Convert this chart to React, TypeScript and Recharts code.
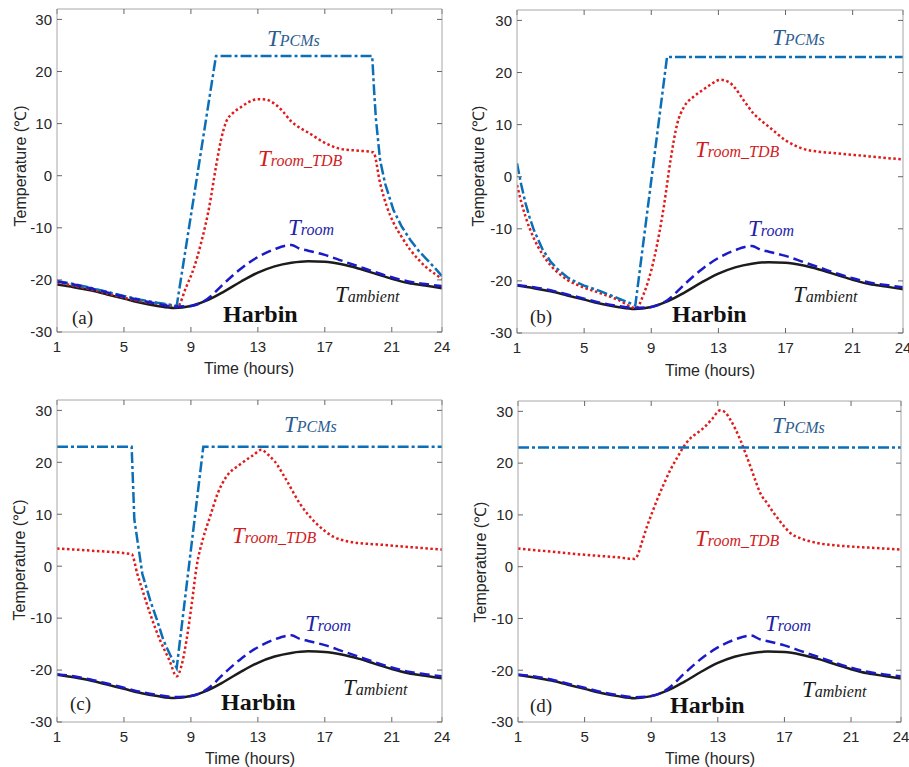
import { LineChart, Line, XAxis, YAxis } from 'recharts'

// axis ticks
const X_TICKS = [1, 5, 9, 13, 17, 21, 24]
const Y_TICKS = [-30, -20, -10, 0, 10, 20, 30]

// ambient temperature, hourly (same for all four panels)
const HOURS = [1, 2, 3, 4, 5, 6, 7, 8, 9, 10, 11, 12, 13, 14, 15, 16, 17, 18, 19, 20, 21, 22, 23, 24]
const T_AMBIENT = [-20.9, -21.4, -22.0, -22.8, -23.6, -24.4, -25.0, -25.4, -25.0, -23.9, -22.2, -20.3, -18.6, -17.4, -16.7, -16.4, -16.5, -17.0, -17.8, -18.8, -19.8, -20.6, -21.1, -21.6]

// room temperature
const ROOM_HOURS = [1, 2, 3, 4, 5, 6, 7, 8, 9, 10, 11, 12, 13, 14, 15, 15.5, 16, 17, 18, 19, 20, 21, 22, 23, 24]
const T_ROOM_A = [-20.3, -20.9, -21.6, -22.4, -23.2, -23.9, -24.6, -25.1, -25.0, -23.6, -20.6, -17.8, -15.6, -14.1, -13.3, -14.0, -14.4, -15.2, -16.3, -17.4, -18.5, -19.5, -20.3, -20.8, -21.2]
const T_ROOM = [-20.8, -21.2, -21.8, -22.6, -23.4, -24.2, -24.8, -25.2, -25.0, -23.6, -20.6, -17.8, -15.6, -14.1, -13.3, -14.0, -14.4, -15.2, -16.3, -17.4, -18.5, -19.5, -20.3, -20.8, -21.2]

// (a)
const PCM_A_HOURS = [1, 2, 3, 4, 5, 6, 7, 8, 8.15, 10.5, 19.83, 19.95, 20.05, 20.3, 20.6, 21.1, 21.6, 22.1, 22.6, 23.1, 23.6, 24]
const PCM_A = [-20.2, -20.8, -21.5, -22.3, -23.1, -23.8, -24.4, -24.9, -25.0, 23, 23, 16, 11, 3, -1.5, -6.6, -9.8, -12.3, -14.4, -16.1, -17.8, -19.3]
const TDB_A_HOURS = [1, 2, 3, 4, 5, 6, 7, 8, 8.2, 8.7, 9.2, 9.6, 10.1, 10.5, 10.8, 11.1, 11.5, 12, 12.5, 13, 13.5, 14, 14.5, 15, 15.5, 16, 17, 18, 19, 19.9, 20.3, 20.7, 21.1, 21.6, 22.1, 22.6, 23.1, 23.6, 24]
const TDB_A = [-20.5, -21.1, -21.8, -22.6, -23.4, -24.1, -24.6, -25.0, -25.1, -21.5, -17.5, -13.0, -5.9, 1.8, 6.9, 10.3, 12.0, 13.2, 14.2, 14.7, 14.6, 13.8, 12.3, 10.4, 9.2, 8.3, 6.3, 5.1, 4.8, 4.5, -1.4, -5.9, -9.0, -11.8, -14.2, -16.1, -17.7, -18.9, -19.8]

// (b)
const PCM_B_HOURS = [1, 1.25, 1.5, 1.75, 2, 2.5, 3, 3.5, 4, 4.5, 5, 6, 7, 8.05, 9.94, 24]
const PCM_B = [2.6, -1.5, -5.0, -7.8, -10.2, -13.8, -16.3, -18.0, -19.3, -20.2, -20.9, -22.0, -23.3, -24.7, 23, 23]
const TDB_B_HOURS = [1, 1.25, 1.5, 2, 2.5, 3, 3.5, 4, 5, 6, 7, 8.1, 8.55, 9.15, 9.75, 10.15, 10.55, 10.95, 11.5, 12, 12.5, 13.1, 13.6, 14, 14.5, 15.1, 15.5, 16, 17, 18, 19, 20, 21, 22, 23, 24]
const TDB_B = [-1.6, -4.8, -7.6, -11.8, -14.8, -17.0, -18.6, -19.8, -21.3, -22.4, -23.6, -25.2, -22.5, -16.0, -5.7, 3.2, 10.2, 13.4, 15.3, 16.5, 17.6, 18.6, 18.2, 17.0, 14.7, 12.1, 10.9, 9.6, 7.0, 5.4, 4.8, 4.5, 4.2, 3.9, 3.6, 3.3]

// (c)
const PCM_C_HOURS = [1, 5.46, 5.62, 6.1, 6.56, 7.0, 7.35, 7.75, 8.15, 9.74, 24]
const PCM_C = [23, 23, 9, -1.5, -6.5, -10.6, -14.2, -17.0, -19.6, 23, 23]
const TDB_C_HOURS = [1, 3, 5.46, 5.8, 6.16, 6.6, 7.15, 7.7, 8.15, 8.45, 8.74, 9.04, 9.34, 9.74, 10.14, 10.6, 11.13, 11.9, 12.73, 13.2, 13.6, 14, 14.7, 15.5, 16.5, 17.5, 18.5, 20.5, 22, 24]
const TDB_C = [3.4, 3.0, 2.3, -1.5, -5.2, -9.5, -14.2, -18.0, -21.2, -19.0, -14.2, -7.5, -0.1, 5.5, 9.5, 14.0, 17.3, 19.5, 21.4, 22.4, 21.5, 20.2, 16.6, 12.1, 8.2, 5.7, 4.7, 4.1, 3.7, 3.2]

// (d)
const PCM_D_HOURS = [1, 24]
const PCM_D = [23, 23]
const TDB_D_HOURS = [1, 3, 5, 7, 8.0, 8.15, 8.45, 8.75, 9.05, 9.35, 9.75, 10.15, 10.55, 10.95, 11.35, 11.75, 12.15, 12.65, 13.15, 13.45, 13.75, 14.05, 14.35, 14.65, 14.95, 15.25, 15.55, 15.95, 16.35, 16.85, 17.35, 17.95, 18.95, 20.95, 22.5, 24]
const TDB_D = [3.5, 2.9, 2.3, 1.8, 1.5, 2.0, 4.8, 7.8, 10.4, 12.9, 15.9, 18.7, 21.0, 23.2, 24.8, 25.8, 26.8, 28.5, 30.2, 29.8, 28.4, 26.6, 24.5, 22.0, 19.4, 16.7, 14.2, 12.3, 10.4, 8.3, 6.5, 5.5, 4.6, 3.9, 3.6, 3.3]

type Pt = { h: number; v: number }
const zip = (hs: number[], vs: number[]): Pt[] => hs.map((h, i) => ({ h, v: vs[i] }))

const SANS = "'Liberation Sans', Arial, sans-serif"
const SERIF = "'Liberation Serif', 'Times New Roman', serif"

const AXIS_GREY = '#a6a6a6'
const TICK_GREY = '#666'

interface PanelProps {
  left: number
  top: number
  plotW: number
  plotH: number
  pcm: Pt[]
  tdb: Pt[]
  room: Pt[]
}

const ambient = zip(HOURS, T_AMBIENT)

function Panel({ left, top, plotW, plotH, pcm, tdb, room }: PanelProps) {
  const tickStyle = { fill: '#262626', fontSize: 15, fontFamily: SANS }
  return (
    <div style={{ position: 'absolute', left: left - 57, top: top - 10 }}>
      <LineChart width={57 + plotW + 10} height={10 + plotH + 40} margin={{ top: 0, right: 0, bottom: 0, left: 0 }}>
        <XAxis
          xAxisId="b"
          type="number"
          dataKey="h"
          domain={[1, 24]}
          ticks={X_TICKS}
          height={40}
          tickSize={-5}
          tickMargin={14}
          tick={tickStyle}
          axisLine={{ stroke: AXIS_GREY }}
          tickLine={{ stroke: TICK_GREY }}
          allowDataOverflow
        />
        <XAxis
          xAxisId="t"
          orientation="top"
          type="number"
          dataKey="h"
          domain={[1, 24]}
          ticks={X_TICKS}
          height={10}
          tickSize={-5}
          tickFormatter={() => ''}
          axisLine={{ stroke: AXIS_GREY }}
          tickLine={{ stroke: TICK_GREY }}
          allowDataOverflow
        />
        <YAxis
          yAxisId="l"
          type="number"
          domain={[-30, 32]}
          ticks={Y_TICKS}
          width={57}
          tickSize={-5}
          tickMargin={10}
          tick={tickStyle}
          axisLine={{ stroke: AXIS_GREY }}
          tickLine={{ stroke: TICK_GREY }}
          allowDataOverflow
        />
        <YAxis
          yAxisId="r"
          orientation="right"
          type="number"
          domain={[-30, 32]}
          ticks={Y_TICKS}
          width={10}
          tickSize={-5}
          tickFormatter={() => ''}
          axisLine={{ stroke: AXIS_GREY }}
          tickLine={{ stroke: TICK_GREY }}
          allowDataOverflow
        />
        <Line xAxisId="b" yAxisId="l" data={ambient} dataKey="v" type="monotone" stroke="#1c1c1c" strokeWidth={2.5} dot={false} isAnimationActive={false} />
        <Line xAxisId="b" yAxisId="l" data={tdb} dataKey="v" type="monotone" stroke="#e01b1b" strokeWidth={2.5} strokeDasharray="2.5 2.5" dot={false} isAnimationActive={false} />
        <Line xAxisId="b" yAxisId="l" data={pcm} dataKey="v" type="linear" stroke="#0b6fb8" strokeWidth={2.5} strokeDasharray="11 3 3 3" dot={false} isAnimationActive={false} />
        <Line xAxisId="b" yAxisId="l" data={room} dataKey="v" type="monotone" stroke="#1a1ac8" strokeWidth={2.5} strokeDasharray="10 5" dot={false} isAnimationActive={false} />
      </LineChart>
    </div>
  )
}

function SubLabel({ x, y, sub, color }: { x: number; y: number; sub: string; color: string }) {
  return (
    <text x={x} y={y} fill={color} fontFamily={SERIF} fontStyle="italic" fontSize={23}>
      T<tspan fontSize={16}>{sub}</tspan>
    </text>
  )
}

interface Notes {
  tag: string
  pcm: [number, number]
  tdb: [number, number]
  room: [number, number]
  amb: [number, number]
  harbin: [number, number]
  tagPos: [number, number]
  yTitle: [number, number]
  xTitle: [number, number]
}

const NOTES: Notes[] = [
  { tag: '(a)', pcm: [267, 46], tdb: [258, 166], room: [288, 235], amb: [335, 302], harbin: [223, 322], tagPos: [72, 324], yTitle: [20, 166], xTitle: [249, 368] },
  { tag: '(b)', pcm: [772, 45], tdb: [695, 157], room: [748, 236], amb: [793, 302], harbin: [672, 322], tagPos: [530, 323], yTitle: [478, 166], xTitle: [710, 370] },
  { tag: '(c)', pcm: [284, 432], tdb: [232, 543], room: [305, 631], amb: [343, 695], harbin: [221, 710], tagPos: [70, 710], yTitle: [19, 560], xTitle: [250, 758] },
  { tag: '(d)', pcm: [772, 433], tdb: [695, 546], room: [765, 631], amb: [802, 697], harbin: [670, 713], tagPos: [530, 712], yTitle: [480, 562], xTitle: [710, 758] },
]

export default function App() {
  return (
    <div style={{ position: 'absolute', left: 0, top: 0, width: 909, height: 767, background: '#fff', overflow: 'hidden' }}>
      <Panel left={57} top={9} plotW={385} plotH={323} pcm={zip(PCM_A_HOURS, PCM_A)} tdb={zip(TDB_A_HOURS, TDB_A)} room={zip(ROOM_HOURS, T_ROOM_A)} />
      <Panel left={517} top={10} plotW={386} plotH={323} pcm={zip(PCM_B_HOURS, PCM_B)} tdb={zip(TDB_B_HOURS, TDB_B)} room={zip(ROOM_HOURS, T_ROOM)} />
      <Panel left={57} top={400} plotW={385} plotH={322} pcm={zip(PCM_C_HOURS, PCM_C)} tdb={zip(TDB_C_HOURS, TDB_C)} room={zip(ROOM_HOURS, T_ROOM)} />
      <Panel left={518} top={401} plotW={383} plotH={321} pcm={zip(PCM_D_HOURS, PCM_D)} tdb={zip(TDB_D_HOURS, TDB_D)} room={zip(ROOM_HOURS, T_ROOM)} />
      <svg width={909} height={767} style={{ position: 'absolute', left: 0, top: 0, pointerEvents: 'none' }}>
        {NOTES.map((n) => (
          <g key={n.tag}>
            <SubLabel x={n.pcm[0]} y={n.pcm[1]} sub="PCMs" color="#2c5d8f" />
            <SubLabel x={n.tdb[0]} y={n.tdb[1]} sub="room_TDB" color="#d01c1c" />
            <SubLabel x={n.room[0]} y={n.room[1]} sub="room" color="#2323a8" />
            <SubLabel x={n.amb[0]} y={n.amb[1]} sub="ambient" color="#1a1a1a" />
            <text x={n.harbin[0]} y={n.harbin[1]} fontFamily={SERIF} fontWeight="bold" fontSize={24} fill="#111">
              Harbin
            </text>
            <text x={n.tagPos[0]} y={n.tagPos[1]} fontFamily={SERIF} fontSize={19} fill="#222">
              {n.tag}
            </text>
            <text
              x={n.yTitle[0]}
              y={n.yTitle[1]}
              transform={`rotate(-90 ${n.yTitle[0]} ${n.yTitle[1]})`}
              textAnchor="middle"
              dominantBaseline="central"
              fontFamily={SANS}
              fontSize={16}
              fill="#262626"
            >
              Temperature (℃)
            </text>
            <text x={n.xTitle[0]} y={n.xTitle[1]} textAnchor="middle" dominantBaseline="central" fontFamily={SANS} fontSize={16} fill="#262626">
              Time (hours)
            </text>
          </g>
        ))}
      </svg>
    </div>
  )
}
